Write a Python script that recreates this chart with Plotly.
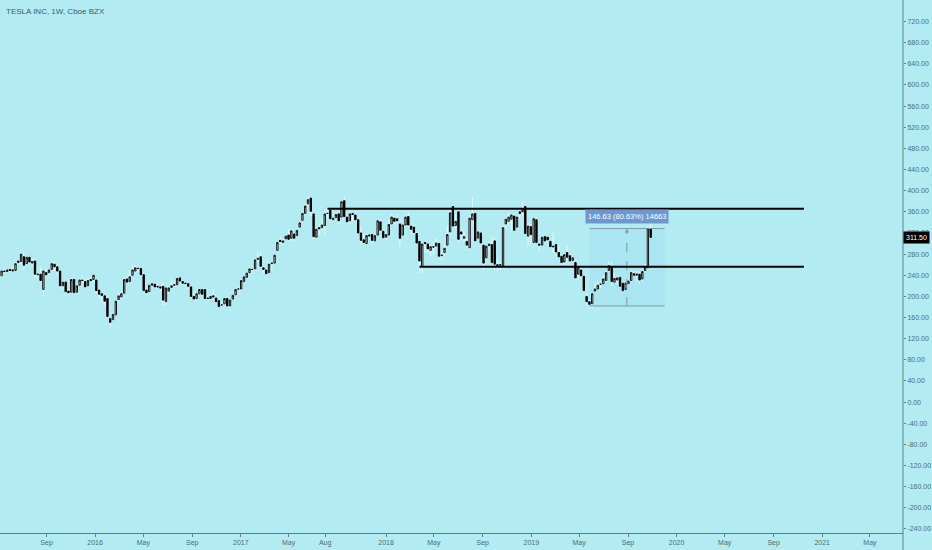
import pandas as pd
import plotly.graph_objects as go

# TSLA weekly candles, week of 2015-05-11 to week of 2019-10-28
opens = [
    239, 248, 247, 251, 248, 249, 264, 266, 275, 262, 274, 263, 267, 241, 242, 213, 245,
    245, 251, 261, 256, 248, 220, 227, 210, 208, 232, 208, 221, 231, 228, 220, 232, 232,
    # 2016
    231, 212, 205, 201, 196, 158, 156, 165, 194, 199, 206, 233, 228, 240, 248, 253, 253,
    241, 212, 209, 221, 223, 219, 218, 219, 190, 210, 217, 221, 222, 235, 228, 224, 224,
    218, 200, 196, 205, 213, 213, 197, 196, 201, 197, 192, 184, 186, 196, 182, 195, 203, 214,
    # 2017
    214, 228, 236, 245, 251, 252, 270, 275, 254, 250, 245, 262, 263, 287, 306, 302, 309,
    316, 310, 318, 315, 331, 344, 357, 375, 386, 356, 312, 330, 330, 334, 357, 363, 345,
    349, 356, 350, 381, 350, 343, 357, 354, 345, 320, 307, 300, 314, 317, 305, 316, 341, 323,
    # 2018
    312, 316, 337, 348, 347, 337, 316, 335, 351, 333, 331, 319, 304, 256, 302, 299, 287,
    293, 295, 300, 277, 283, 297, 322, 370, 334, 360, 322, 310, 304, 292, 345, 357, 310,
    320, 297, 273, 296, 298, 305, 260, 259, 257, 337, 342, 346, 352, 331, 360, 360, 370, 314, 332,
    # 2019
    302, 345, 299, 297, 313, 312, 304, 295, 298, 283, 276, 265, 283, 277, 268, 264, 242,
    250, 238, 200, 190, 186, 210, 214, 223, 224, 230, 249, 256, 227, 231, 236, 225, 213,
    224, 230, 243, 240, 242, 233, 249, 254, 328.5,
]
highs = [
    249, 251, 252, 253, 256, 265, 270, 285, 282, 277, 276, 270, 272, 245, 254, 249, 253,
    251, 264, 267, 259, 251, 230, 228, 213, 235, 233, 222, 232, 240, 232, 236, 236, 241,
    # 2016
    232, 213, 207, 203, 199, 160, 168, 193, 207, 209, 235, 238, 248, 260, 259, 258, 256,
    243, 215, 223, 228, 224, 224, 220, 225, 217, 219, 230, 229, 236, 236, 230, 226, 226,
    219, 209, 206, 214, 214, 215, 202, 203, 214, 200, 194, 190, 197, 197, 194, 203, 214, 220,
    # 2017
    231, 238, 245, 255, 253, 270, 285, 281, 256, 251, 265, 267, 280, 303, 313, 310, 316,
    327, 327, 320, 327, 341, 359, 377, 387, 386, 357, 330, 336, 346, 365, 365, 365, 357,
    358, 357, 380, 389, 357, 360, 358, 358, 347, 332, 318, 318, 318, 318, 317, 345, 346, 324,
    # 2018
    323, 345, 355, 352, 355, 345, 338, 354, 359, 336, 336, 322, 305, 301, 305, 299, 298,
    302, 310, 300, 286, 298, 334, 364, 373, 356, 364, 325, 324, 310, 354, 387, 359, 324,
    323, 298, 296, 304, 314, 311, 270, 264, 334, 347, 357, 354, 356, 352, 366, 379, 370, 339, 337,
    # 2019
    348, 350, 300, 314, 314, 313, 305, 320, 298, 296, 280, 282, 296, 281, 276, 265, 259,
    258, 239, 206, 193, 206, 226, 231, 230, 240, 248, 266, 266, 244, 240, 238, 229, 226,
    232, 248, 249, 248, 248, 250, 262, 333, 340,
]
lows = [
    238, 244, 245, 245, 246, 248, 262, 260, 250, 258, 262, 258, 235, 234, 228, 199, 239,
    240, 248, 250, 240, 215, 213, 207, 203, 206, 205, 207, 219, 226, 216, 218, 228, 228,
    # 2016
    206, 196, 190, 183, 162, 141, 155, 163, 190, 196, 204, 224, 225, 239, 246, 246, 237,
    208, 203, 204, 217, 216, 215, 210, 183, 184, 206, 215, 218, 220, 223, 222, 220, 214,
    197, 194, 193, 203, 201, 195, 194, 193, 196, 187, 181, 180, 185, 182, 181, 193, 202, 210,
    # 2017
    211, 226, 234, 243, 245, 249, 265, 254, 244, 242, 244, 250, 262, 285, 300, 298, 306,
    306, 305, 305, 313, 330, 339, 354, 370, 352, 308, 309, 316, 325, 315, 349, 346, 340,
    345, 338, 349, 350, 338, 337, 342, 343, 318, 299, 300, 299, 307, 300, 303, 313, 323, 308,
    # 2018
    306, 315, 333, 336, 338, 295, 315, 332, 330, 317, 316, 299, 244, 244, 282, 284, 276,
    279, 291, 274, 268, 276, 295, 317, 327, 327, 302, 306, 305, 291, 288, 341, 303, 306,
    297, 251, 272, 286, 263, 250, 249, 250, 255, 328, 334, 325, 320, 331, 349, 354, 318, 295, 300,
    # 2019
    301, 301, 285, 294, 304, 300, 290, 282, 276, 275, 260, 259, 266, 266, 268, 232, 232,
    234, 210, 183, 177, 176, 209, 214, 215, 223, 227, 246, 220, 226, 223, 215, 211, 211,
    221, 227, 239, 228, 224, 228, 248, 250, 309,
]
closes = [
    248, 247, 250, 249, 250, 262, 267, 280, 259, 274, 265, 266, 242, 242, 230, 248, 241,
    250, 262, 256, 248, 220, 227, 209, 207, 232, 207, 220, 231, 230, 218, 230, 230, 240,
    # 2016
    211, 204, 202, 191, 162, 151, 166, 191, 201, 205, 232, 227, 237, 250, 254, 253, 241,
    211, 207, 221, 224, 218, 218, 216, 193, 216, 216, 220, 222, 234, 229, 225, 225, 219,
    200, 195, 205, 213, 204, 196, 196, 200, 199, 190, 181, 184, 196, 182, 193, 202, 213, 214,
    # 2017
    230, 237, 244, 252, 251, 269, 272, 257, 251, 243, 261, 263, 278, 302, 304, 305, 314,
    308, 324, 310, 325, 339, 357, 371, 383, 361, 313, 327, 328, 335, 356, 357, 347, 348,
    355, 343, 379, 351, 341, 356, 355, 345, 320, 306, 302, 315, 316, 306, 315, 343, 325, 311,
    # 2018
    317, 336, 350, 342, 343, 310, 335, 350, 335, 327, 321, 301, 267, 299, 300, 290, 294,
    294, 301, 276, 278, 291, 317, 358, 333, 342, 308, 318, 313, 297, 348, 356, 305, 322,
    301, 263, 295, 299, 264, 261, 258, 260, 330, 346, 350, 354, 325, 350, 357, 365, 319, 333, 317,
    # 2019
    347, 302, 297, 312, 305, 307, 294, 294, 284, 275, 264, 279, 274, 267, 273, 235, 255,
    239, 211, 190, 185, 205, 214, 221, 223, 233, 245, 258, 228, 234, 235, 219, 211, 225,
    229, 245, 240, 242, 231, 247, 256, 328.5, 311.5,
]

assert len(opens) == len(highs) == len(lows) == len(closes), (
    len(opens), len(highs), len(lows), len(closes))

weeks = pd.date_range("2015-05-11", periods=len(closes), freq="7D")

# drawn levels and the price-range measurement
resistance = 366
support = 256
range_low = 181.86
range_high = 328.49
last_price = 311.50

x_tick_dates = ["2015-09-01", "2016-01-01", "2016-05-01", "2016-09-01", "2017-01-01",
                "2017-05-01", "2017-08-01", "2018-01-01", "2018-05-01", "2018-09-01",
                "2019-01-01", "2019-05-01", "2019-09-01", "2020-01-01", "2020-05-01",
                "2020-09-01", "2021-01-01", "2021-05-01"]
x_tick_text = ["Sep", "2016", "May", "Sep", "2017", "May", "Aug", "2018", "May", "Sep",
               "2019", "May", "Sep", "2020", "May", "Sep", "2021", "May"]
y_ticks = list(range(-240, 760, 40))
y_tick_text = ["%.2f" % v for v in y_ticks]

BG = "#b2ebf2"
AXIS = "#5f8089"
FONT = "Liberation Sans Narrow, Liberation Sans, Arial"

body_top = [max(o, c) for o, c in zip(opens, closes)]
body_bottom = [min(o, c) for o, c in zip(opens, closes)]

wick_style = dict(line=dict(color="rgba(232,252,255,0.95)", width=1), fillcolor="rgba(0,0,0,0)")
wicks = go.Candlestick(
    x=weeks, open=opens, high=highs, low=lows, close=closes,
    increasing=wick_style, decreasing=wick_style,
    whiskerwidth=0, hoverinfo="skip", showlegend=False,
)
bodies = go.Candlestick(
    x=weeks, open=opens, high=body_top, low=body_bottom, close=closes,
    increasing=dict(line=dict(color="#111111", width=1), fillcolor="#eefcfd"),
    decreasing=dict(line=dict(color="#000000", width=1), fillcolor="#000000"),
    whiskerwidth=0, showlegend=False,
)

fig = go.Figure(data=[wicks, bodies])

mid = "2019-08-29"
fig.add_shape(type="rect", x0="2019-05-27", x1="2019-12-02", y0=range_low, y1=range_high,
              fillcolor="rgba(33,150,243,0.06)", line_width=0, layer="below")
for lvl in (range_low, range_high):
    fig.add_shape(type="line", x0="2019-05-27", x1="2019-12-02", y0=lvl, y1=lvl,
                  line=dict(color="#7f9ba4", width=1))
fig.add_shape(type="line", x0=mid, x1=mid, y0=range_low, y1=range_high - 3,
              line=dict(color="#7f9ba4", width=1, dash="dash"))
fig.add_annotation(x=mid, y=range_high, ax=mid, ay=range_high - 6, axref="x", ayref="y",
                   text="", showarrow=True, arrowhead=2, arrowsize=0.8, arrowwidth=1,
                   arrowcolor="#7f9ba4")
fig.add_annotation(x=mid, y=352, text="146.63 (80.63%) 14663", showarrow=False,
                   bgcolor="#6d97cf", font=dict(color="white", size=7.5, family=FONT),
                   borderpad=2)

fig.add_shape(type="line", x0="2017-08-07", x1="2020-11-16", y0=resistance, y1=resistance,
              line=dict(color="#000000", width=2))
fig.add_shape(type="line", x0="2018-03-26", x1="2020-11-16", y0=support, y1=support,
              line=dict(color="#000000", width=2))

# right scale line runs down past the time axis
fig.add_shape(type="line", xref="paper", yref="paper", x0=1, x1=1, y0=-0.04, y1=1,
              line=dict(color=AXIS, width=1))

fig.add_annotation(xref="paper", yref="y", x=1, xanchor="left", y=last_price,
                   text="%.2f" % last_price, showarrow=False, bgcolor="#000000",
                   font=dict(color="white", size=7, family=FONT), borderpad=2, xshift=0)
fig.add_annotation(xref="paper", yref="paper", x=0.004, y=0.979, xanchor="left", yanchor="middle",
                   text="TESLA INC, 1W, Cboe BZX", showarrow=False,
                   font=dict(color="#3e5b66", size=8, family=FONT))

fig.update_layout(
    width=932, height=550,
    margin=dict(l=0, r=29, t=0, b=17, autoexpand=False),
    paper_bgcolor=BG, plot_bgcolor=BG,
    font=dict(family=FONT, size=7, color="#4f6c75"),
    showlegend=False,
    boxgap=0.3,
    xaxis=dict(
        type="date", range=["2015-05-07", "2021-07-23"],
        tickvals=x_tick_dates, ticktext=x_tick_text,
        ticks="outside", ticklen=3, tickcolor=AXIS,
        showline=True, linecolor=AXIS, linewidth=1,
        showgrid=False, zeroline=False, automargin=False,
        rangeslider=dict(visible=False),
    ),
    yaxis=dict(
        side="right", range=[-247.6, 760.7],
        tickvals=y_ticks, ticktext=y_tick_text,
        ticks="outside", ticklen=2, tickcolor=AXIS,
        showline=False, showgrid=False, zeroline=False, automargin=False,
    ),
)

# the page's default 8px body margin would push the chart off the window
fig.write_html("out.html", config={"displayModeBar": False},
               post_script="document.body.style.margin='0';document.body.style.background='%s';" % BG)
